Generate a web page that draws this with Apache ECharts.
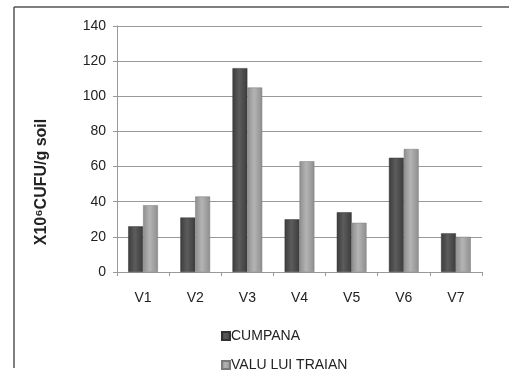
<!DOCTYPE html>
<html>
<head>
<meta charset="utf-8">
<script src="https://cdn.jsdelivr.net/npm/echarts@6/dist/echarts.min.js"></script>
<style>
html,body{margin:0;padding:0;background:#fff;}
#chart{width:509px;height:378px;}
</style>
</head>
<body>
<div id="chart"></div>
<script>
// Sites and variants
const categories = ['V1', 'V2', 'V3', 'V4', 'V5', 'V6', 'V7'];
const cumpana = [26, 31, 116, 30, 34, 65, 22];
const valuLuiTraian = [38, 43, 105, 63, 28, 70, 20];
const yTicks = { min: 0, max: 140, interval: 20 };
const yTitle = 'X10\u2076CUFU/g soil';

const font = 'Liberation Sans, Arial, sans-serif';

function shade(edge, mid) {
  return new echarts.graphic.LinearGradient(0, 0, 1, 0, [
    { offset: 0, color: edge },
    { offset: 0.45, color: mid },
    { offset: 1, color: edge }
  ]);
}

const chart = echarts.init(document.getElementById('chart'));
chart.setOption({
  animation: false,
  backgroundColor: '#fff',
  graphic: [
    { type: 'line', shape: { x1: 14, y1: 7, x2: 509, y2: 7 }, style: { stroke: '#555', lineWidth: 1.5 } },
    { type: 'line', shape: { x1: 14, y1: 7, x2: 14, y2: 368 }, style: { stroke: '#555', lineWidth: 1.5 } },
    {
      type: 'text',
      x: 42, y: 182,
      rotation: Math.PI / 2,
      style: {
        text: yTitle,
        fontFamily: font, fontSize: 16, fontWeight: 'bold', fill: '#222',
        align: 'center', verticalAlign: 'middle'
      }
    }
  ],
  grid: { left: 117, right: 27, top: 26, bottom: 106 },
  legend: {
    orient: 'vertical',
    left: 221,
    top: 329,
    padding: 0,
    itemWidth: 8,
    itemHeight: 8,
    itemGap: 15,
    icon: 'rect',
    textStyle: { fontFamily: font, fontSize: 14, color: '#222', padding: [0, 0, 0, -4] },
    data: ['CUMPANA', 'VALU LUI TRAIAN']
  },
  xAxis: {
    type: 'category',
    data: categories,
    axisLine: { lineStyle: { color: '#999' } },
    axisTick: { show: true, length: 4, lineStyle: { color: '#999' } },
    axisLabel: { fontFamily: font, fontSize: 14, color: '#222', margin: 19 }
  },
  yAxis: {
    type: 'value',
    min: yTicks.min,
    max: yTicks.max,
    interval: yTicks.interval,
    axisLine: { show: true, lineStyle: { color: '#999' } },
    axisTick: { show: true, length: 4, lineStyle: { color: '#999' } },
    splitLine: { lineStyle: { color: '#999' } },
    axisLabel: { fontFamily: font, fontSize: 14, color: '#222', margin: 11 }
  },
  series: [
    {
      name: 'CUMPANA',
      type: 'bar',
      data: cumpana,
      barGap: '0%',
      barCategoryGap: '43%',
      itemStyle: { color: shade('#3c3c3c', '#5c5c5c'), borderColor: '#333', borderWidth: 0.5 }
    },
    {
      name: 'VALU LUI TRAIAN',
      type: 'bar',
      data: valuLuiTraian,
      itemStyle: { color: shade('#8e8e8e', '#b4b4b4'), borderColor: '#7a7a7a', borderWidth: 0.5 }
    }
  ]
});
</script>
</body>
</html>
